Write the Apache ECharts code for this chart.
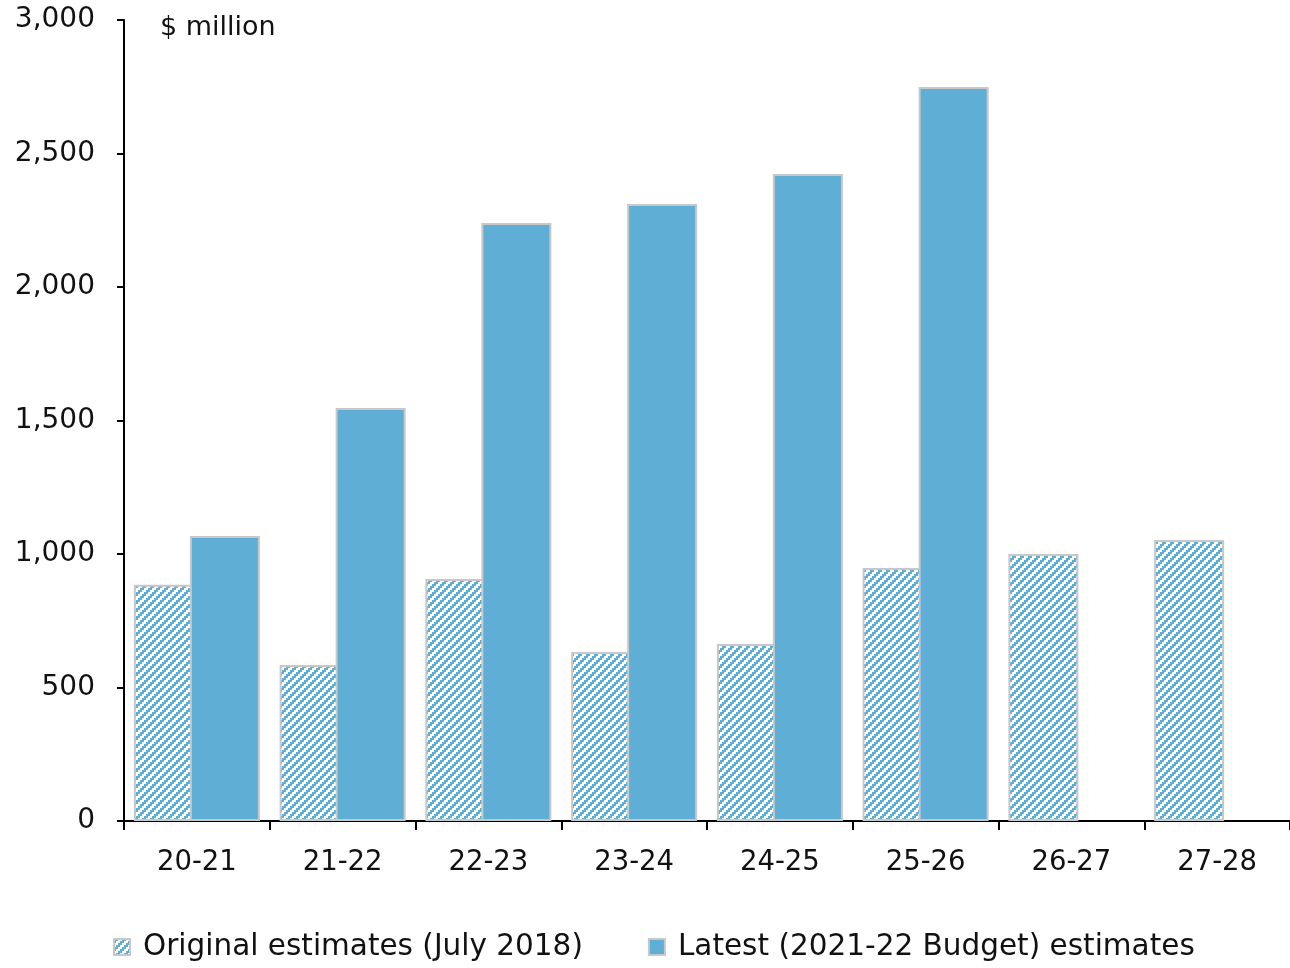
<!DOCTYPE html>
<html>
<head>
<meta charset="utf-8">
<script src="https://cdn.jsdelivr.net/npm/echarts@6/dist/echarts.min.js"></script>
<style>
html,body{margin:0;padding:0;background:#fff;}
#c{width:1290px;height:968px;}
</style>
</head>
<body>
<div id="c"></div>
<script>
const categories = ['20-21','21-22','22-23','23-24','24-25','25-26','26-27','27-28'];
const originalEstimates = [885, 584, 906, 633, 663, 948, 1000, 1052];
const latestEstimates = [1067, 1547, 2240, 2311, 2423, 2749, null, null];
const seriesNames = ['Original estimates (July 2018)', 'Latest (2021-22 Budget) estimates'];
const yTicks = [0, 500, 1000, 1500, 2000, 2500, 3000];

const BLUE = '#5EAED6';
const FONT = '"DejaVu Sans", sans-serif';

// hatch pattern (stair-step diagonal rising to the right)
const pc = document.createElement('canvas');
pc.width = 8; pc.height = 8;
const pctx = pc.getContext('2d');
pctx.fillStyle = '#ffffff';
pctx.fillRect(0,0,8,8);
pctx.fillStyle = BLUE;
for (let y = 0; y < 8; y++) {
  for (let x = 0; x < 8; x++) {
    const bx = Math.floor(x/2), by = Math.floor(y/2);
    if ((bx + by) % 4 < 2) pctx.fillRect(x, y, 1, 1);
  }
}

const chart = echarts.init(document.getElementById('c'), null, {renderer:'canvas'});
chart.setOption({
  animation: false,
  backgroundColor: '#fff',
  grid: {left: 124, right: -2, top: 20, bottom: 147, containLabel: false},
  legend: {
    bottom: 1,
    left: 108,
    itemWidth: 16,
    itemHeight: 16,
    itemGap: 65,
    icon: 'rect',
    textStyle: {fontFamily: FONT, fontSize: 29.5, color: '#111', padding: [0,0,0,8]},
    data: seriesNames
  },
  graphic: [{
    type: 'text', left: 160, top: 14,
    style: {text: '$ million', font: '27px ' + FONT, fill: '#111'}
  }],
  xAxis: {
    type: 'category',
    data: categories,
    axisLine: {lineStyle: {color: '#000', width: 2}},
    axisTick: {show: true, alignWithLabel: false, length: 9, lineStyle: {color: '#000', width: 2}},
    axisLabel: {fontFamily: FONT, fontSize: 27.5, color: '#111', margin: 28},
  },
  yAxis: {
    type: 'value',
    min: 0, max: 3000, interval: 500,
    splitLine: {show: false},
    axisLine: {show: true, lineStyle: {color: '#000', width: 2}},
    axisTick: {show: true, length: 7, lineStyle: {color: '#000', width: 2}},
    axisLabel: {fontFamily: FONT, fontSize: 28, color: '#111', margin: 29,
      formatter: v => v.toLocaleString('en-US')}
  },
  series: [
    {
      name: seriesNames[0], type: 'bar', data: originalEstimates,
      barWidth: 70, barGap: '-20%',
      itemStyle: {color: {image: pc, repeat: 'repeat'}, borderColor: '#C8C8C8', borderWidth: 2}
    },
    {
      name: seriesNames[1], type: 'bar', data: latestEstimates,
      barWidth: 70,
      itemStyle: {color: BLUE, borderColor: '#C8C8C8', borderWidth: 2}
    }
  ]
});
</script>
</body>
</html>
